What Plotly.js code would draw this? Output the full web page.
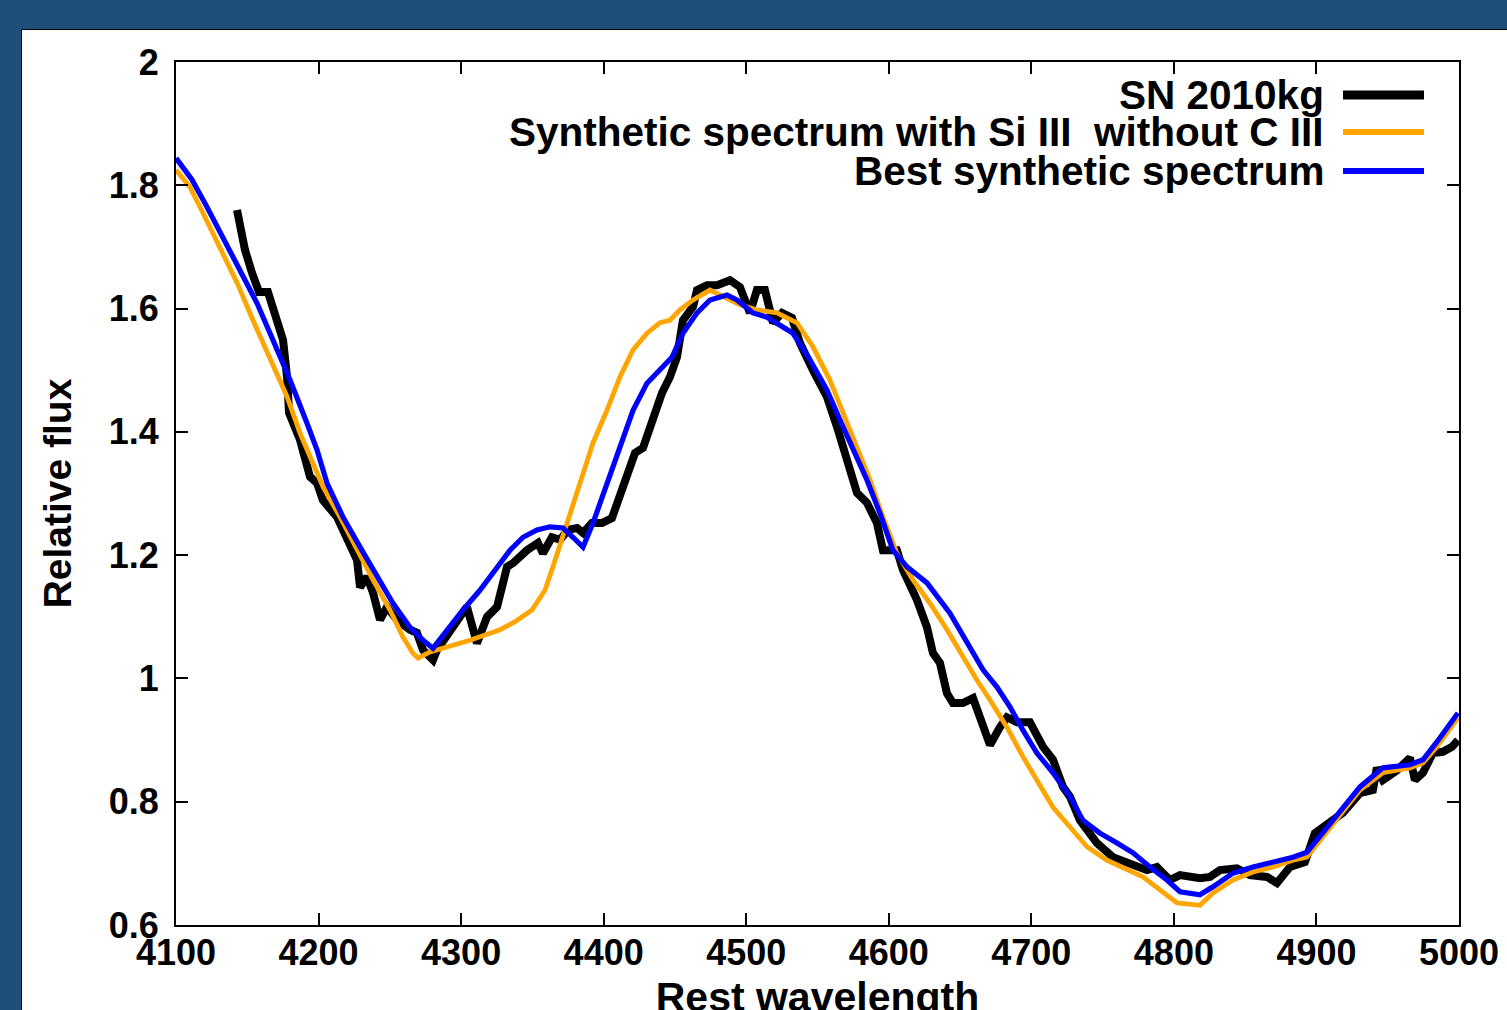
<!DOCTYPE html>
<html>
<head>
<meta charset="utf-8">
<script src="https://cdn.plot.ly/plotly-3.0.1.min.js"></script>
<style>
  html, body { margin:0; padding:0; width:1507px; height:1010px; overflow:hidden; background:#1f4e79; }
  #panel { position:absolute; left:21px; top:29px; width:1500px; height:1000px; background:#ffffff; border:1px solid #000; }
  #chart { position:absolute; left:0; top:0; width:1507px; height:1030px; }
</style>
</head>
<body>
<div id="panel"></div>
<div id="chart"></div>
<script>
// Observed spectrum SN 2010kg
const snWave = [4142.8,4148.4,4153.3,4158.2,4164.5,4170.8,4175.1,4177.9,4179.3,4187.0,4189.1,4194.0,4198.9,4203.1,4212.9,4222.1,4227.0,4229.1,4234.0,4238.2,4243.1,4248.0,4255.0,4264.1,4269.0,4273.3,4280.3,4283.1,4292.2,4299.2,4304.1,4311.1,4318.2,4325.2,4332.2,4336.4,4346.2,4353.9,4357.4,4363.7,4369.4,4375.0,4381.3,4385.5,4391.8,4398.8,4405.8,4411.4,4417.1,4422.0,4427.6,4432.5,4437.4,4440.9,4446.5,4451.4,4455.6,4462.7,4465.5,4472.5,4479.5,4488.6,4495.6,4502.6,4507.5,4513.1,4518.8,4525.1,4532.1,4537.7,4546.8,4556.6,4563.7,4570.7,4577.7,4584.7,4591.7,4595.9,4605.7,4610.0,4619.8,4626.8,4631.0,4635.9,4640.8,4645.0,4652.0,4659.1,4664.0,4671.0,4678.0,4682.9,4689.9,4699.0,4708.2,4715.2,4722.2,4727.1,4734.1,4746.0,4757.3,4769.2,4781.1,4788.1,4797.2,4804.3,4818.3,4825.3,4832.3,4844.2,4853.3,4865.3,4872.3,4881.4,4891.9,4898.9,4909.5,4918.6,4930.5,4939.6,4942.4,4946.6,4956.5,4965.6,4969.1,4974.7,4981.7,4988.7,4995.1,4999.3];
const snFlux = [1.760,1.695,1.658,1.627,1.627,1.586,1.549,1.489,1.431,1.387,1.371,1.327,1.317,1.289,1.262,1.220,1.192,1.148,1.165,1.139,1.095,1.116,1.095,1.079,1.074,1.046,1.030,1.046,1.079,1.100,1.116,1.057,1.100,1.116,1.181,1.187,1.208,1.220,1.203,1.229,1.225,1.241,1.244,1.236,1.252,1.252,1.260,1.294,1.333,1.366,1.374,1.408,1.440,1.463,1.489,1.521,1.581,1.603,1.630,1.638,1.638,1.646,1.635,1.593,1.630,1.630,1.577,1.593,1.585,1.544,1.500,1.457,1.408,1.349,1.301,1.285,1.252,1.208,1.208,1.176,1.127,1.083,1.041,1.025,0.976,0.960,0.960,0.968,0.933,0.892,0.921,0.937,0.929,0.929,0.889,0.868,0.824,0.808,0.770,0.733,0.710,0.701,0.689,0.694,0.673,0.681,0.676,0.678,0.689,0.692,0.681,0.678,0.668,0.694,0.702,0.749,0.765,0.782,0.814,0.819,0.855,0.835,0.851,0.871,0.835,0.847,0.879,0.881,0.889,0.900];

// Synthetic spectrum with Si III, without C III
const noCWave = [4100.0,4109.8,4118.9,4130.9,4142.8,4154.0,4165.9,4177.9,4187.0,4191.9,4203.1,4215.0,4227.0,4238.2,4250.1,4259.2,4266.2,4269.8,4278.2,4290.1,4306.2,4327.3,4337.8,4349.7,4358.8,4364.4,4374.3,4383.4,4392.5,4402.3,4411.4,4420.6,4430.4,4439.5,4446.5,4453.5,4462.7,4474.6,4486.5,4495.6,4507.5,4521.6,4535.6,4546.8,4558.7,4567.9,4577.7,4586.8,4595.9,4605.7,4617.0,4628.9,4640.8,4652.0,4661.9,4671.0,4682.9,4694.1,4703.9,4715.2,4727.1,4739.0,4753.1,4767.1,4778.3,4790.2,4802.2,4818.3,4827.4,4841.4,4855.5,4869.5,4883.5,4893.3,4904.6,4918.6,4930.5,4946.6,4965.6,4974.7,4984.5,4999.3];
const noCFlux = [1.825,1.797,1.755,1.700,1.642,1.581,1.521,1.457,1.398,1.371,1.311,1.262,1.208,1.160,1.111,1.067,1.041,1.033,1.043,1.051,1.062,1.079,1.092,1.111,1.143,1.181,1.252,1.317,1.382,1.435,1.489,1.533,1.560,1.577,1.581,1.598,1.614,1.630,1.617,1.606,1.598,1.593,1.577,1.538,1.484,1.431,1.375,1.322,1.262,1.203,1.160,1.122,1.079,1.035,0.997,0.965,0.921,0.873,0.835,0.791,0.759,0.727,0.705,0.689,0.678,0.657,0.636,0.632,0.652,0.673,0.686,0.694,0.705,0.710,0.743,0.782,0.819,0.847,0.855,0.863,0.889,0.936];

// Best synthetic spectrum
const bestWave = [4100.0,4111.2,4121.7,4133.0,4144.9,4156.8,4168.0,4180.0,4191.9,4198.9,4205.9,4217.1,4229.1,4241.0,4252.2,4264.1,4273.3,4280.3,4290.1,4301.3,4313.2,4325.2,4334.3,4343.4,4353.2,4362.3,4371.5,4378.5,4385.5,4392.5,4402.3,4411.4,4420.6,4430.4,4439.5,4447.9,4455.6,4465.5,4474.6,4486.5,4493.5,4504.7,4514.6,4523.7,4532.8,4544.7,4556.6,4565.8,4574.9,4584.7,4593.8,4602.9,4612.8,4626.8,4642.9,4654.8,4666.1,4675.9,4685.0,4694.1,4703.9,4715.2,4727.1,4736.2,4748.1,4760.1,4771.3,4783.2,4795.1,4804.3,4818.3,4827.4,4841.4,4855.5,4869.5,4883.5,4893.3,4904.6,4918.6,4930.5,4946.6,4965.6,4974.7,4984.5,4999.3];
const bestFlux = [1.844,1.809,1.765,1.716,1.663,1.609,1.549,1.484,1.414,1.371,1.317,1.262,1.213,1.165,1.122,1.083,1.062,1.049,1.079,1.111,1.143,1.181,1.208,1.229,1.241,1.246,1.244,1.229,1.213,1.252,1.317,1.371,1.435,1.479,1.500,1.521,1.560,1.593,1.614,1.622,1.614,1.593,1.586,1.573,1.560,1.517,1.468,1.419,1.371,1.322,1.268,1.208,1.181,1.155,1.106,1.057,1.014,0.986,0.954,0.916,0.879,0.847,0.808,0.770,0.749,0.733,0.717,0.694,0.673,0.654,0.649,0.662,0.684,0.694,0.701,0.710,0.718,0.749,0.790,0.824,0.855,0.860,0.868,0.897,0.944];

const seriesNames = ["SN 2010kg", "Synthetic spectrum with Si III  without C III", "Best synthetic spectrum"];
const seriesColors = ["#000000", "#ffa500", "#0000ff"];
const seriesWidths = [8, 4.8, 5.2];

const xTicks = [4100,4200,4300,4400,4500,4600,4700,4800,4900,5000];
const xTickText = ["4100","4200","4300","4400","4500","4600","4700","4800","4900","5000"];
const yTicks = [0.6,0.8,1.0,1.2,1.4,1.6,1.8,2.0];
const yTickText = ["0.6","0.8","1","1.2","1.4","1.6","1.8","2"];

const xs = [snWave, noCWave, bestWave];
const ys = [snFlux, noCFlux, bestFlux];
const traces = xs.map((x, i) => ({
  x: x, y: ys[i], type: 'scatter', mode: 'lines', name: seriesNames[i],
  line: {color: seriesColors[i], width: seriesWidths[i]}, showlegend: false, hoverinfo: 'skip'
}));

const F = 'Liberation Sans, Arial, Helvetica, sans-serif';
// custom legend (text right-aligned, sample line to the right)
const legY = [0.9618, 0.9189, 0.8737];
const annotations = seriesNames.map((n, i) => ({
  xref: 'paper', yref: 'paper', x: 0.8963, y: legY[i], xanchor: 'right', yanchor: 'middle',
  text: n, showarrow: false, font: {family: F, size: 40.5, weight: 'bold', color: '#000'}
}));
const shapes = seriesNames.map((n, i) => ({
  type: 'line', xref: 'paper', yref: 'paper', x0: 0.9096, x1: 0.9727, y0: legY[i], y1: legY[i],
  line: {color: seriesColors[i], width: seriesWidths[i] + 1}
}));

const axisCommon = {
  showgrid: false, zeroline: false, showline: true, linecolor: '#000', linewidth: 2,
  mirror: 'ticks', ticks: 'inside', ticklen: 12, tickwidth: 2, tickcolor: '#000',
  tickfont: {family: F, size: 36, weight: 'bold', color: '#000'}
};

// plot is 1030 px tall inside a 1010 px window: plot area stays at y 62..925 and the
// bottom of the x-axis title is cut by the window edge, as in the reference
const layout = {
  width: 1507, height: 1030, autosize: false,
  margin: {l: 176, r: 48, t: 62, b: 105, pad: 0},
  paper_bgcolor: 'rgba(0,0,0,0)', plot_bgcolor: '#ffffff',
  showlegend: false,
  xaxis: Object.assign({}, axisCommon, {
    range: [4100, 5000], tickvals: xTicks, ticktext: xTickText, ticklabelstandoff: -5,
    title: {text: 'Rest wavelength', font: {family: F, size: 41, weight: 'bold', color: '#000'}, standoff: 10}
  }),
  yaxis: Object.assign({}, axisCommon, {
    range: [0.6, 2.0], tickvals: yTicks, ticktext: yTickText, ticklabelstandoff: 8,
    title: {text: 'Relative flux', font: {family: F, size: 39, weight: 'bold', color: '#000'}, standoff: 25}
  }),
  annotations: annotations,
  shapes: shapes
};

Plotly.newPlot('chart', traces, layout, {staticPlot: true, displayModeBar: false});
</script>
</body>
</html>
